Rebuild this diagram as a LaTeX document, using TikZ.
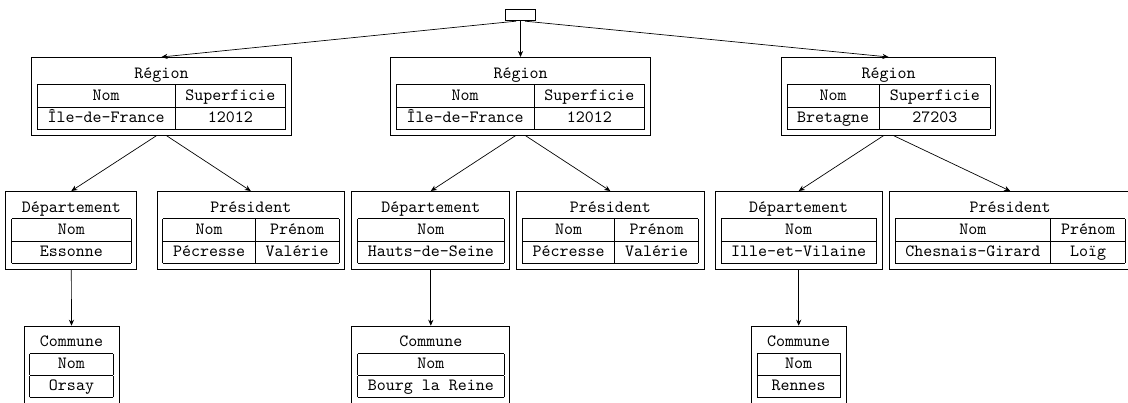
\documentclass[tikz,border=0pt]{standalone}
\usepackage{fontspec}
\usetikzlibrary{calc,arrows.meta}
\renewcommand{\arraystretch}{1.04}
\tikzset{
  tbl/.style={draw, inner sep=3.33pt, anchor=north, font=\ttfamily},
  rootbox/.style={draw, inner sep=0pt, minimum width=17.5pt, minimum height=6.8pt},
  arr/.style={-{Stealth[length=3.5pt,width=3pt]}},
}
% Table bodies
\newcommand{\regiontab}[2]{\begin{tabular}{|c|c|}\multicolumn{2}{c}{Région}\\\hline Nom & Superficie\\\hline #1 & #2\\\hline\end{tabular}}
\newcommand{\presidtab}[2]{\begin{tabular}{|c|c|}\multicolumn{2}{c}{Président}\\\hline Nom & Prénom\\\hline #1 & #2\\\hline\end{tabular}}
\newcommand{\onecoltab}[2]{\begin{tabular}{|c|}\multicolumn{1}{c}{#1}\\\hline Nom\\\hline #2\\\hline\end{tabular}}
\begin{document}
\begin{tikzpicture}[x=0.5833pt,y=-0.5833pt]
\useasboundingbox (0,0) rectangle (1128,403);

\node[rootbox] (root) at (520.5,15) {};

\node[tbl] (R1) at (161.5,57) {\regiontab{Île-de-France}{12012}};
\node[tbl] (R2) at (520.5,57) {\regiontab{Île-de-France}{12012}};
\node[tbl] (R3) at (888.5,57) {\regiontab{Bretagne}{27203}};

\node[tbl] (D1) at (71.3,191) {\onecoltab{Département}{Essonne}};
\node[tbl] (P1) at (250.8,191) {\presidtab{Pécresse}{Valérie}};
\node[tbl] (D2) at (430.8,191) {\onecoltab{Département}{Hauts-de-Seine}};
\node[tbl] (P2) at (610.3,191) {\presidtab{Pécresse}{Valérie}};
\node[tbl] (D3) at (798.7,191) {\onecoltab{Département}{Ille-et-Vilaine}};
\node[tbl] (P3) at (1010.2,191) {\presidtab{Chesnais-Girard}{Loïg}};

\node[tbl] (C1) at (71.5,325.7) {\onecoltab{Commune}{Orsay}};
\node[tbl] (C2) at (430.8,325.7) {\onecoltab{Commune}{Bourg la Reine}};
\node[tbl] (C3) at (798.7,325.7) {\onecoltab{Commune}{Rennes}};

% Edges
\draw[arr] ($(root.south)+(-4.5,0)$) -- (R1.north);
\draw[arr] (root.south) -- (R2.north);
\draw[arr] ($(root.south)+(4.5,0)$) -- (R3.north);

\draw[arr] ($(R1.south)+(-4.5,0)$) -- (D1.north);
\draw[arr] ($(R1.south)+(4.5,0)$) -- (P1.north);
\draw[arr] ($(R2.south)+(-4.5,0)$) -- (D2.north);
\draw[arr] ($(R2.south)+(4.5,0)$) -- (P2.north);
\draw[arr] ($(R3.south)+(-4.5,0)$) -- (D3.north);
\draw[arr] ($(R3.south)+(4.5,0)$) -- (P3.north);

\draw[arr] (D1.south) -- (C1.north);
\draw[arr] (D2.south) -- (C2.north);
\draw[arr] (D3.south) -- (C3.north);
\end{tikzpicture}
\end{document}
